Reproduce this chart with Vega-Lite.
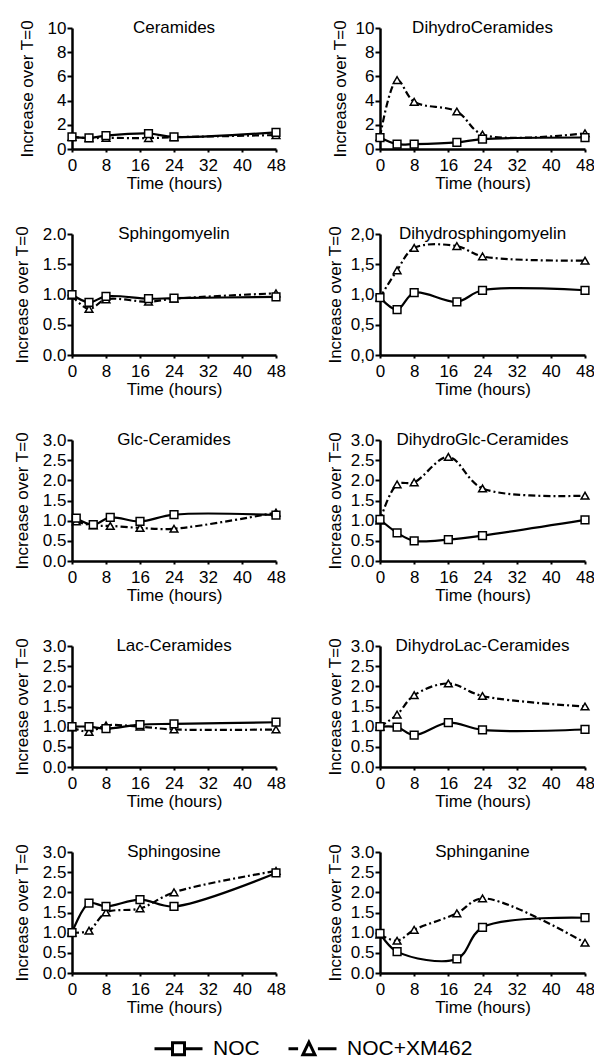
{
  "$schema": "https://vega.github.io/schema/vega-lite/v6.json",
  "padding": {"left": 13, "top": 19, "right": 0, "bottom": 0},
  "background": "white",
  "data": {"values": [
    {"panel": "Ceramides", "series": "NOC+XM462", "t": 0, "v": 1.0},
    {"panel": "Ceramides", "series": "NOC+XM462", "t": 4, "v": 0.9},
    {"panel": "Ceramides", "series": "NOC+XM462", "t": 8, "v": 0.92},
    {"panel": "Ceramides", "series": "NOC+XM462", "t": 18, "v": 0.9},
    {"panel": "Ceramides", "series": "NOC+XM462", "t": 24, "v": 0.97},
    {"panel": "Ceramides", "series": "NOC+XM462", "t": 48, "v": 1.15},
    {"panel": "Ceramides", "series": "NOC", "t": 0, "v": 1.0},
    {"panel": "Ceramides", "series": "NOC", "t": 4, "v": 0.92},
    {"panel": "Ceramides", "series": "NOC", "t": 8, "v": 1.1},
    {"panel": "Ceramides", "series": "NOC", "t": 18, "v": 1.28},
    {"panel": "Ceramides", "series": "NOC", "t": 24, "v": 1.0},
    {"panel": "Ceramides", "series": "NOC", "t": 48, "v": 1.38},
    {"panel": "DihydroCeramides", "series": "NOC+XM462", "t": 0, "v": 1.0},
    {"panel": "DihydroCeramides", "series": "NOC+XM462", "t": 4, "v": 5.7},
    {"panel": "DihydroCeramides", "series": "NOC+XM462", "t": 8, "v": 3.9},
    {"panel": "DihydroCeramides", "series": "NOC+XM462", "t": 18, "v": 3.1},
    {"panel": "DihydroCeramides", "series": "NOC+XM462", "t": 24, "v": 1.2},
    {"panel": "DihydroCeramides", "series": "NOC+XM462", "t": 48, "v": 1.3},
    {"panel": "DihydroCeramides", "series": "NOC", "t": 0, "v": 0.95},
    {"panel": "DihydroCeramides", "series": "NOC", "t": 4, "v": 0.4},
    {"panel": "DihydroCeramides", "series": "NOC", "t": 8, "v": 0.4},
    {"panel": "DihydroCeramides", "series": "NOC", "t": 18, "v": 0.55},
    {"panel": "DihydroCeramides", "series": "NOC", "t": 24, "v": 0.82},
    {"panel": "DihydroCeramides", "series": "NOC", "t": 48, "v": 0.95},
    {"panel": "Sphingomyelin", "series": "NOC+XM462", "t": 0, "v": 0.98},
    {"panel": "Sphingomyelin", "series": "NOC+XM462", "t": 4, "v": 0.76},
    {"panel": "Sphingomyelin", "series": "NOC+XM462", "t": 8, "v": 0.92},
    {"panel": "Sphingomyelin", "series": "NOC+XM462", "t": 18, "v": 0.88},
    {"panel": "Sphingomyelin", "series": "NOC+XM462", "t": 24, "v": 0.93},
    {"panel": "Sphingomyelin", "series": "NOC+XM462", "t": 48, "v": 1.02},
    {"panel": "Sphingomyelin", "series": "NOC", "t": 0, "v": 1.0},
    {"panel": "Sphingomyelin", "series": "NOC", "t": 4, "v": 0.87},
    {"panel": "Sphingomyelin", "series": "NOC", "t": 8, "v": 0.97},
    {"panel": "Sphingomyelin", "series": "NOC", "t": 18, "v": 0.93},
    {"panel": "Sphingomyelin", "series": "NOC", "t": 24, "v": 0.94},
    {"panel": "Sphingomyelin", "series": "NOC", "t": 48, "v": 0.96},
    {"panel": "Dihydrosphingomyelin", "series": "NOC+XM462", "t": 0, "v": 0.95},
    {"panel": "Dihydrosphingomyelin", "series": "NOC+XM462", "t": 4, "v": 1.4},
    {"panel": "Dihydrosphingomyelin", "series": "NOC+XM462", "t": 8, "v": 1.77},
    {"panel": "Dihydrosphingomyelin", "series": "NOC+XM462", "t": 18, "v": 1.8},
    {"panel": "Dihydrosphingomyelin", "series": "NOC+XM462", "t": 24, "v": 1.63},
    {"panel": "Dihydrosphingomyelin", "series": "NOC+XM462", "t": 48, "v": 1.56},
    {"panel": "Dihydrosphingomyelin", "series": "NOC", "t": 0, "v": 0.95},
    {"panel": "Dihydrosphingomyelin", "series": "NOC", "t": 4, "v": 0.75},
    {"panel": "Dihydrosphingomyelin", "series": "NOC", "t": 8, "v": 1.03},
    {"panel": "Dihydrosphingomyelin", "series": "NOC", "t": 18, "v": 0.88},
    {"panel": "Dihydrosphingomyelin", "series": "NOC", "t": 24, "v": 1.07},
    {"panel": "Dihydrosphingomyelin", "series": "NOC", "t": 48, "v": 1.07},
    {"panel": "Glc-Ceramides", "series": "NOC+XM462", "t": 1, "v": 0.98},
    {"panel": "Glc-Ceramides", "series": "NOC+XM462", "t": 5, "v": 0.88},
    {"panel": "Glc-Ceramides", "series": "NOC+XM462", "t": 9, "v": 0.87},
    {"panel": "Glc-Ceramides", "series": "NOC+XM462", "t": 16, "v": 0.82},
    {"panel": "Glc-Ceramides", "series": "NOC+XM462", "t": 24, "v": 0.8},
    {"panel": "Glc-Ceramides", "series": "NOC+XM462", "t": 48, "v": 1.2},
    {"panel": "Glc-Ceramides", "series": "NOC", "t": 1, "v": 1.06},
    {"panel": "Glc-Ceramides", "series": "NOC", "t": 5, "v": 0.9},
    {"panel": "Glc-Ceramides", "series": "NOC", "t": 9, "v": 1.08},
    {"panel": "Glc-Ceramides", "series": "NOC", "t": 16, "v": 0.98},
    {"panel": "Glc-Ceramides", "series": "NOC", "t": 24, "v": 1.15},
    {"panel": "Glc-Ceramides", "series": "NOC", "t": 48, "v": 1.14},
    {"panel": "DihydroGlc-Ceramides", "series": "NOC+XM462", "t": 0, "v": 1.0},
    {"panel": "DihydroGlc-Ceramides", "series": "NOC+XM462", "t": 4, "v": 1.9},
    {"panel": "DihydroGlc-Ceramides", "series": "NOC+XM462", "t": 8, "v": 1.95},
    {"panel": "DihydroGlc-Ceramides", "series": "NOC+XM462", "t": 16, "v": 2.58},
    {"panel": "DihydroGlc-Ceramides", "series": "NOC+XM462", "t": 24, "v": 1.8},
    {"panel": "DihydroGlc-Ceramides", "series": "NOC+XM462", "t": 48, "v": 1.62},
    {"panel": "DihydroGlc-Ceramides", "series": "NOC", "t": 0, "v": 1.03},
    {"panel": "DihydroGlc-Ceramides", "series": "NOC", "t": 4, "v": 0.7},
    {"panel": "DihydroGlc-Ceramides", "series": "NOC", "t": 8, "v": 0.5},
    {"panel": "DihydroGlc-Ceramides", "series": "NOC", "t": 16, "v": 0.53},
    {"panel": "DihydroGlc-Ceramides", "series": "NOC", "t": 24, "v": 0.63},
    {"panel": "DihydroGlc-Ceramides", "series": "NOC", "t": 48, "v": 1.02},
    {"panel": "Lac-Ceramides", "series": "NOC+XM462", "t": 0, "v": 0.98},
    {"panel": "Lac-Ceramides", "series": "NOC+XM462", "t": 4, "v": 0.87},
    {"panel": "Lac-Ceramides", "series": "NOC+XM462", "t": 8, "v": 1.03},
    {"panel": "Lac-Ceramides", "series": "NOC+XM462", "t": 16, "v": 1.0},
    {"panel": "Lac-Ceramides", "series": "NOC+XM462", "t": 24, "v": 0.93},
    {"panel": "Lac-Ceramides", "series": "NOC+XM462", "t": 48, "v": 0.93},
    {"panel": "Lac-Ceramides", "series": "NOC", "t": 0, "v": 1.0},
    {"panel": "Lac-Ceramides", "series": "NOC", "t": 4, "v": 1.0},
    {"panel": "Lac-Ceramides", "series": "NOC", "t": 8, "v": 0.95},
    {"panel": "Lac-Ceramides", "series": "NOC", "t": 16, "v": 1.05},
    {"panel": "Lac-Ceramides", "series": "NOC", "t": 24, "v": 1.07},
    {"panel": "Lac-Ceramides", "series": "NOC", "t": 48, "v": 1.11},
    {"panel": "DihydroLac-Ceramides", "series": "NOC+XM462", "t": 0, "v": 1.0},
    {"panel": "DihydroLac-Ceramides", "series": "NOC+XM462", "t": 4, "v": 1.3},
    {"panel": "DihydroLac-Ceramides", "series": "NOC+XM462", "t": 8, "v": 1.78},
    {"panel": "DihydroLac-Ceramides", "series": "NOC+XM462", "t": 16, "v": 2.07},
    {"panel": "DihydroLac-Ceramides", "series": "NOC+XM462", "t": 24, "v": 1.76},
    {"panel": "DihydroLac-Ceramides", "series": "NOC+XM462", "t": 48, "v": 1.5},
    {"panel": "DihydroLac-Ceramides", "series": "NOC", "t": 0, "v": 1.0},
    {"panel": "DihydroLac-Ceramides", "series": "NOC", "t": 4, "v": 0.99},
    {"panel": "DihydroLac-Ceramides", "series": "NOC", "t": 8, "v": 0.79},
    {"panel": "DihydroLac-Ceramides", "series": "NOC", "t": 16, "v": 1.1},
    {"panel": "DihydroLac-Ceramides", "series": "NOC", "t": 24, "v": 0.92},
    {"panel": "DihydroLac-Ceramides", "series": "NOC", "t": 48, "v": 0.93},
    {"panel": "Sphingosine", "series": "NOC+XM462", "t": 0, "v": 1.0},
    {"panel": "Sphingosine", "series": "NOC+XM462", "t": 4, "v": 1.05},
    {"panel": "Sphingosine", "series": "NOC+XM462", "t": 8, "v": 1.5},
    {"panel": "Sphingosine", "series": "NOC+XM462", "t": 16, "v": 1.6},
    {"panel": "Sphingosine", "series": "NOC+XM462", "t": 24, "v": 2.0},
    {"panel": "Sphingosine", "series": "NOC+XM462", "t": 48, "v": 2.53},
    {"panel": "Sphingosine", "series": "NOC", "t": 0, "v": 1.0},
    {"panel": "Sphingosine", "series": "NOC", "t": 4, "v": 1.73},
    {"panel": "Sphingosine", "series": "NOC", "t": 8, "v": 1.65},
    {"panel": "Sphingosine", "series": "NOC", "t": 16, "v": 1.82},
    {"panel": "Sphingosine", "series": "NOC", "t": 24, "v": 1.65},
    {"panel": "Sphingosine", "series": "NOC", "t": 48, "v": 2.48},
    {"panel": "Sphinganine", "series": "NOC+XM462", "t": 0, "v": 0.95},
    {"panel": "Sphinganine", "series": "NOC+XM462", "t": 4, "v": 0.8},
    {"panel": "Sphinganine", "series": "NOC+XM462", "t": 8, "v": 1.07},
    {"panel": "Sphinganine", "series": "NOC+XM462", "t": 18, "v": 1.48},
    {"panel": "Sphinganine", "series": "NOC+XM462", "t": 24, "v": 1.85},
    {"panel": "Sphinganine", "series": "NOC+XM462", "t": 48, "v": 0.75},
    {"panel": "Sphinganine", "series": "NOC", "t": 0, "v": 0.98},
    {"panel": "Sphinganine", "series": "NOC", "t": 4, "v": 0.53},
    {"panel": "Sphinganine", "series": "NOC", "t": 18, "v": 0.35},
    {"panel": "Sphinganine", "series": "NOC", "t": 24, "v": 1.13},
    {"panel": "Sphinganine", "series": "NOC", "t": 48, "v": 1.37}
  ]},
  "columns": 2,
  "spacing": {"row": 34, "column": 40},
  "concat": [
    {"title": "Ceramides", "width": 204, "height": 121,
     "transform": [{"filter": "datum.panel === 'Ceramides'"}],
     "encoding": {
       "x": {"field": "t", "type": "quantitative", "scale": {"domain": [0, 48], "nice": false}, "axis": {"values": [0, 8, 16, 24, 32, 40, 48], "title": "Time (hours)"}},
       "y": {"field": "v", "type": "quantitative", "scale": {"domain": [0, 10], "nice": false}, "axis": {"values": [0, 2, 4, 6, 8, 10], "title": "Increase over T=0", "titlePadding": 11}}
     },
     "layer": [
       {"transform": [{"filter": "datum.series === 'NOC+XM462'"}], "mark": {"type": "line", "interpolate": "catmull-rom", "color": "black", "strokeWidth": 2.2, "strokeDash": [7, 3, 2, 3]}, "encoding": {}},
       {"transform": [{"filter": "datum.series === 'NOC'"}], "mark": {"type": "line", "interpolate": "catmull-rom", "color": "black", "strokeWidth": 2.2}, "encoding": {}},
       {"transform": [{"filter": "datum.series === 'NOC+XM462'"}], "mark": {"type": "point", "shape": "triangle-up", "filled": true, "fill": "white", "stroke": "black", "strokeWidth": 1.5, "size": 60, "opacity": 1}},
       {"transform": [{"filter": "datum.series === 'NOC'"}], "mark": {"type": "point", "shape": "square", "filled": true, "fill": "white", "stroke": "black", "strokeWidth": 1.5, "size": 60, "opacity": 1}},
       {"transform": [{"filter": "false"}], "mark": {"type": "point", "filled": false, "color": "black", "strokeWidth": 3},
        "encoding": {"shape": {"field": "series", "type": "nominal", "scale": {"domain": ["NOC", "NOC+XM462"], "range": ["M-2,0H-0.5M0.5,0H2M-0.5,-0.5H0.5V0.5H-0.5Z", "M-2,0H-1.2M-0.8,0.5L-0.3,-0.55L0.2,0.5ZM0.45,0H2"]},
          "legend": {"title": null, "orient": "none", "legendX": 93, "legendY": 1007, "direction": "horizontal", "padding": 0, "labelFontSize": 21, "labelFont": "Liberation Sans", "labelColor": "black", "symbolSize": 576, "symbolStrokeWidth": 3, "symbolStrokeColor": "black", "symbolFillColor": "white", "symbolOpacity": 1, "columnPadding": 22, "labelOffset": 21}}}}
     ]},
    {"title": "DihydroCeramides", "width": 205, "height": 121,
     "transform": [{"filter": "datum.panel === 'DihydroCeramides'"}],
     "encoding": {
       "x": {"field": "t", "type": "quantitative", "scale": {"domain": [0, 48], "nice": false}, "axis": {"values": [0, 8, 16, 24, 32, 40, 48], "title": "Time (hours)"}},
       "y": {"field": "v", "type": "quantitative", "scale": {"domain": [0, 10], "nice": false}, "axis": {"values": [0, 2, 4, 6, 8, 10], "title": "Increase over T=0", "titlePadding": 6}}
     },
     "layer": [
       {"transform": [{"filter": "datum.series === 'NOC+XM462'"}], "mark": {"type": "line", "interpolate": "catmull-rom", "color": "black", "strokeWidth": 2.2, "strokeDash": [7, 3, 2, 3]}, "encoding": {}},
       {"transform": [{"filter": "datum.series === 'NOC'"}], "mark": {"type": "line", "interpolate": "catmull-rom", "color": "black", "strokeWidth": 2.2}, "encoding": {}},
       {"transform": [{"filter": "datum.series === 'NOC+XM462'"}], "mark": {"type": "point", "shape": "triangle-up", "filled": true, "fill": "white", "stroke": "black", "strokeWidth": 1.5, "size": 60, "opacity": 1}},
       {"transform": [{"filter": "datum.series === 'NOC'"}], "mark": {"type": "point", "shape": "square", "filled": true, "fill": "white", "stroke": "black", "strokeWidth": 1.5, "size": 60, "opacity": 1}},
       {"transform": [{"filter": "false"}], "mark": {"type": "point", "filled": false, "color": "black", "strokeWidth": 3},
        "encoding": {"shape": {"field": "series", "type": "nominal", "scale": {"domain": ["NOC", "NOC+XM462"], "range": ["M-2,0H-0.5M0.5,0H2M-0.5,-0.5H0.5V0.5H-0.5Z", "M-2,0H-1.2M-0.8,0.5L-0.3,-0.55L0.2,0.5ZM0.45,0H2"]},
          "legend": {"title": null, "orient": "none", "legendX": 93, "legendY": 1007, "direction": "horizontal", "padding": 0, "labelFontSize": 21, "labelFont": "Liberation Sans", "labelColor": "black", "symbolSize": 576, "symbolStrokeWidth": 3, "symbolStrokeColor": "black", "symbolFillColor": "white", "symbolOpacity": 1, "columnPadding": 22, "labelOffset": 21}}}}
     ]},
    {"title": "Sphingomyelin", "width": 204, "height": 121,
     "transform": [{"filter": "datum.panel === 'Sphingomyelin'"}],
     "encoding": {
       "x": {"field": "t", "type": "quantitative", "scale": {"domain": [0, 48], "nice": false}, "axis": {"values": [0, 8, 16, 24, 32, 40, 48], "title": "Time (hours)"}},
       "y": {"field": "v", "type": "quantitative", "scale": {"domain": [0, 2], "nice": false}, "axis": {"values": [0, 0.5, 1, 1.5, 2], "title": "Increase over T=0", "titlePadding": 11}}
     },
     "layer": [
       {"transform": [{"filter": "datum.series === 'NOC+XM462'"}], "mark": {"type": "line", "interpolate": "catmull-rom", "color": "black", "strokeWidth": 2.2, "strokeDash": [7, 3, 2, 3]}, "encoding": {}},
       {"transform": [{"filter": "datum.series === 'NOC'"}], "mark": {"type": "line", "interpolate": "catmull-rom", "color": "black", "strokeWidth": 2.2}, "encoding": {}},
       {"transform": [{"filter": "datum.series === 'NOC+XM462'"}], "mark": {"type": "point", "shape": "triangle-up", "filled": true, "fill": "white", "stroke": "black", "strokeWidth": 1.5, "size": 60, "opacity": 1}},
       {"transform": [{"filter": "datum.series === 'NOC'"}], "mark": {"type": "point", "shape": "square", "filled": true, "fill": "white", "stroke": "black", "strokeWidth": 1.5, "size": 60, "opacity": 1}},
       {"transform": [{"filter": "false"}], "mark": {"type": "point", "filled": false, "color": "black", "strokeWidth": 3},
        "encoding": {"shape": {"field": "series", "type": "nominal", "scale": {"domain": ["NOC", "NOC+XM462"], "range": ["M-2,0H-0.5M0.5,0H2M-0.5,-0.5H0.5V0.5H-0.5Z", "M-2,0H-1.2M-0.8,0.5L-0.3,-0.55L0.2,0.5ZM0.45,0H2"]},
          "legend": {"title": null, "orient": "none", "legendX": 93, "legendY": 1007, "direction": "horizontal", "padding": 0, "labelFontSize": 21, "labelFont": "Liberation Sans", "labelColor": "black", "symbolSize": 576, "symbolStrokeWidth": 3, "symbolStrokeColor": "black", "symbolFillColor": "white", "symbolOpacity": 1, "columnPadding": 22, "labelOffset": 21}}}}
     ]},
    {"title": "Dihydrosphingomyelin", "width": 205, "height": 121,
     "transform": [{"filter": "datum.panel === 'Dihydrosphingomyelin'"}],
     "encoding": {
       "x": {"field": "t", "type": "quantitative", "scale": {"domain": [0, 48], "nice": false}, "axis": {"values": [0, 8, 16, 24, 32, 40, 48], "title": "Time (hours)"}},
       "y": {"field": "v", "type": "quantitative", "scale": {"domain": [0, 2], "nice": false}, "axis": {"values": [0, 0.5, 1, 1.5, 2], "labelExpr": "replace(datum.label, '.', ',')", "title": "Increase over T=0", "titlePadding": 6}}
     },
     "layer": [
       {"transform": [{"filter": "datum.series === 'NOC+XM462'"}], "mark": {"type": "line", "interpolate": "catmull-rom", "color": "black", "strokeWidth": 2.2, "strokeDash": [7, 3, 2, 3]}, "encoding": {}},
       {"transform": [{"filter": "datum.series === 'NOC'"}], "mark": {"type": "line", "interpolate": "catmull-rom", "color": "black", "strokeWidth": 2.2}, "encoding": {}},
       {"transform": [{"filter": "datum.series === 'NOC+XM462'"}], "mark": {"type": "point", "shape": "triangle-up", "filled": true, "fill": "white", "stroke": "black", "strokeWidth": 1.5, "size": 60, "opacity": 1}},
       {"transform": [{"filter": "datum.series === 'NOC'"}], "mark": {"type": "point", "shape": "square", "filled": true, "fill": "white", "stroke": "black", "strokeWidth": 1.5, "size": 60, "opacity": 1}},
       {"transform": [{"filter": "false"}], "mark": {"type": "point", "filled": false, "color": "black", "strokeWidth": 3},
        "encoding": {"shape": {"field": "series", "type": "nominal", "scale": {"domain": ["NOC", "NOC+XM462"], "range": ["M-2,0H-0.5M0.5,0H2M-0.5,-0.5H0.5V0.5H-0.5Z", "M-2,0H-1.2M-0.8,0.5L-0.3,-0.55L0.2,0.5ZM0.45,0H2"]},
          "legend": {"title": null, "orient": "none", "legendX": 93, "legendY": 1007, "direction": "horizontal", "padding": 0, "labelFontSize": 21, "labelFont": "Liberation Sans", "labelColor": "black", "symbolSize": 576, "symbolStrokeWidth": 3, "symbolStrokeColor": "black", "symbolFillColor": "white", "symbolOpacity": 1, "columnPadding": 22, "labelOffset": 21}}}}
     ]},
    {"title": "Glc-Ceramides", "width": 204, "height": 121,
     "transform": [{"filter": "datum.panel === 'Glc-Ceramides'"}],
     "encoding": {
       "x": {"field": "t", "type": "quantitative", "scale": {"domain": [0, 48], "nice": false}, "axis": {"values": [0, 8, 16, 24, 32, 40, 48], "title": "Time (hours)"}},
       "y": {"field": "v", "type": "quantitative", "scale": {"domain": [0, 3], "nice": false}, "axis": {"values": [0, 0.5, 1, 1.5, 2, 2.5, 3], "title": "Increase over T=0", "titlePadding": 11}}
     },
     "layer": [
       {"transform": [{"filter": "datum.series === 'NOC+XM462'"}], "mark": {"type": "line", "interpolate": "catmull-rom", "color": "black", "strokeWidth": 2.2, "strokeDash": [7, 3, 2, 3]}, "encoding": {}},
       {"transform": [{"filter": "datum.series === 'NOC'"}], "mark": {"type": "line", "interpolate": "catmull-rom", "color": "black", "strokeWidth": 2.2}, "encoding": {}},
       {"transform": [{"filter": "datum.series === 'NOC+XM462'"}], "mark": {"type": "point", "shape": "triangle-up", "filled": true, "fill": "white", "stroke": "black", "strokeWidth": 1.5, "size": 60, "opacity": 1}},
       {"transform": [{"filter": "datum.series === 'NOC'"}], "mark": {"type": "point", "shape": "square", "filled": true, "fill": "white", "stroke": "black", "strokeWidth": 1.5, "size": 60, "opacity": 1}},
       {"transform": [{"filter": "false"}], "mark": {"type": "point", "filled": false, "color": "black", "strokeWidth": 3},
        "encoding": {"shape": {"field": "series", "type": "nominal", "scale": {"domain": ["NOC", "NOC+XM462"], "range": ["M-2,0H-0.5M0.5,0H2M-0.5,-0.5H0.5V0.5H-0.5Z", "M-2,0H-1.2M-0.8,0.5L-0.3,-0.55L0.2,0.5ZM0.45,0H2"]},
          "legend": {"title": null, "orient": "none", "legendX": 93, "legendY": 1007, "direction": "horizontal", "padding": 0, "labelFontSize": 21, "labelFont": "Liberation Sans", "labelColor": "black", "symbolSize": 576, "symbolStrokeWidth": 3, "symbolStrokeColor": "black", "symbolFillColor": "white", "symbolOpacity": 1, "columnPadding": 22, "labelOffset": 21}}}}
     ]},
    {"title": "DihydroGlc-Ceramides", "width": 205, "height": 121,
     "transform": [{"filter": "datum.panel === 'DihydroGlc-Ceramides'"}],
     "encoding": {
       "x": {"field": "t", "type": "quantitative", "scale": {"domain": [0, 48], "nice": false}, "axis": {"values": [0, 8, 16, 24, 32, 40, 48], "title": "Time (hours)"}},
       "y": {"field": "v", "type": "quantitative", "scale": {"domain": [0, 3], "nice": false}, "axis": {"values": [0, 0.5, 1, 1.5, 2, 2.5, 3], "title": "Increase over T=0", "titlePadding": 6}}
     },
     "layer": [
       {"transform": [{"filter": "datum.series === 'NOC+XM462'"}], "mark": {"type": "line", "interpolate": "catmull-rom", "color": "black", "strokeWidth": 2.2, "strokeDash": [7, 3, 2, 3]}, "encoding": {}},
       {"transform": [{"filter": "datum.series === 'NOC'"}], "mark": {"type": "line", "interpolate": "catmull-rom", "color": "black", "strokeWidth": 2.2}, "encoding": {}},
       {"transform": [{"filter": "datum.series === 'NOC+XM462'"}], "mark": {"type": "point", "shape": "triangle-up", "filled": true, "fill": "white", "stroke": "black", "strokeWidth": 1.5, "size": 60, "opacity": 1}},
       {"transform": [{"filter": "datum.series === 'NOC'"}], "mark": {"type": "point", "shape": "square", "filled": true, "fill": "white", "stroke": "black", "strokeWidth": 1.5, "size": 60, "opacity": 1}},
       {"transform": [{"filter": "false"}], "mark": {"type": "point", "filled": false, "color": "black", "strokeWidth": 3},
        "encoding": {"shape": {"field": "series", "type": "nominal", "scale": {"domain": ["NOC", "NOC+XM462"], "range": ["M-2,0H-0.5M0.5,0H2M-0.5,-0.5H0.5V0.5H-0.5Z", "M-2,0H-1.2M-0.8,0.5L-0.3,-0.55L0.2,0.5ZM0.45,0H2"]},
          "legend": {"title": null, "orient": "none", "legendX": 93, "legendY": 1007, "direction": "horizontal", "padding": 0, "labelFontSize": 21, "labelFont": "Liberation Sans", "labelColor": "black", "symbolSize": 576, "symbolStrokeWidth": 3, "symbolStrokeColor": "black", "symbolFillColor": "white", "symbolOpacity": 1, "columnPadding": 22, "labelOffset": 21}}}}
     ]},
    {"title": "Lac-Ceramides", "width": 204, "height": 121,
     "transform": [{"filter": "datum.panel === 'Lac-Ceramides'"}],
     "encoding": {
       "x": {"field": "t", "type": "quantitative", "scale": {"domain": [0, 48], "nice": false}, "axis": {"values": [0, 8, 16, 24, 32, 40, 48], "title": "Time (hours)"}},
       "y": {"field": "v", "type": "quantitative", "scale": {"domain": [0, 3], "nice": false}, "axis": {"values": [0, 0.5, 1, 1.5, 2, 2.5, 3], "title": "Increase over T=0", "titlePadding": 11}}
     },
     "layer": [
       {"transform": [{"filter": "datum.series === 'NOC+XM462'"}], "mark": {"type": "line", "interpolate": "catmull-rom", "color": "black", "strokeWidth": 2.2, "strokeDash": [7, 3, 2, 3]}, "encoding": {}},
       {"transform": [{"filter": "datum.series === 'NOC'"}], "mark": {"type": "line", "interpolate": "catmull-rom", "color": "black", "strokeWidth": 2.2}, "encoding": {}},
       {"transform": [{"filter": "datum.series === 'NOC+XM462'"}], "mark": {"type": "point", "shape": "triangle-up", "filled": true, "fill": "white", "stroke": "black", "strokeWidth": 1.5, "size": 60, "opacity": 1}},
       {"transform": [{"filter": "datum.series === 'NOC'"}], "mark": {"type": "point", "shape": "square", "filled": true, "fill": "white", "stroke": "black", "strokeWidth": 1.5, "size": 60, "opacity": 1}},
       {"transform": [{"filter": "false"}], "mark": {"type": "point", "filled": false, "color": "black", "strokeWidth": 3},
        "encoding": {"shape": {"field": "series", "type": "nominal", "scale": {"domain": ["NOC", "NOC+XM462"], "range": ["M-2,0H-0.5M0.5,0H2M-0.5,-0.5H0.5V0.5H-0.5Z", "M-2,0H-1.2M-0.8,0.5L-0.3,-0.55L0.2,0.5ZM0.45,0H2"]},
          "legend": {"title": null, "orient": "none", "legendX": 93, "legendY": 1007, "direction": "horizontal", "padding": 0, "labelFontSize": 21, "labelFont": "Liberation Sans", "labelColor": "black", "symbolSize": 576, "symbolStrokeWidth": 3, "symbolStrokeColor": "black", "symbolFillColor": "white", "symbolOpacity": 1, "columnPadding": 22, "labelOffset": 21}}}}
     ]},
    {"title": "DihydroLac-Ceramides", "width": 205, "height": 121,
     "transform": [{"filter": "datum.panel === 'DihydroLac-Ceramides'"}],
     "encoding": {
       "x": {"field": "t", "type": "quantitative", "scale": {"domain": [0, 48], "nice": false}, "axis": {"values": [0, 8, 16, 24, 32, 40, 48], "title": "Time (hours)"}},
       "y": {"field": "v", "type": "quantitative", "scale": {"domain": [0, 3], "nice": false}, "axis": {"values": [0, 0.5, 1, 1.5, 2, 2.5, 3], "title": "Increase over T=0", "titlePadding": 6}}
     },
     "layer": [
       {"transform": [{"filter": "datum.series === 'NOC+XM462'"}], "mark": {"type": "line", "interpolate": "catmull-rom", "color": "black", "strokeWidth": 2.2, "strokeDash": [7, 3, 2, 3]}, "encoding": {}},
       {"transform": [{"filter": "datum.series === 'NOC'"}], "mark": {"type": "line", "interpolate": "catmull-rom", "color": "black", "strokeWidth": 2.2}, "encoding": {}},
       {"transform": [{"filter": "datum.series === 'NOC+XM462'"}], "mark": {"type": "point", "shape": "triangle-up", "filled": true, "fill": "white", "stroke": "black", "strokeWidth": 1.5, "size": 60, "opacity": 1}},
       {"transform": [{"filter": "datum.series === 'NOC'"}], "mark": {"type": "point", "shape": "square", "filled": true, "fill": "white", "stroke": "black", "strokeWidth": 1.5, "size": 60, "opacity": 1}},
       {"transform": [{"filter": "false"}], "mark": {"type": "point", "filled": false, "color": "black", "strokeWidth": 3},
        "encoding": {"shape": {"field": "series", "type": "nominal", "scale": {"domain": ["NOC", "NOC+XM462"], "range": ["M-2,0H-0.5M0.5,0H2M-0.5,-0.5H0.5V0.5H-0.5Z", "M-2,0H-1.2M-0.8,0.5L-0.3,-0.55L0.2,0.5ZM0.45,0H2"]},
          "legend": {"title": null, "orient": "none", "legendX": 93, "legendY": 1007, "direction": "horizontal", "padding": 0, "labelFontSize": 21, "labelFont": "Liberation Sans", "labelColor": "black", "symbolSize": 576, "symbolStrokeWidth": 3, "symbolStrokeColor": "black", "symbolFillColor": "white", "symbolOpacity": 1, "columnPadding": 22, "labelOffset": 21}}}}
     ]},
    {"title": "Sphingosine", "width": 204, "height": 121,
     "transform": [{"filter": "datum.panel === 'Sphingosine'"}],
     "encoding": {
       "x": {"field": "t", "type": "quantitative", "scale": {"domain": [0, 48], "nice": false}, "axis": {"values": [0, 8, 16, 24, 32, 40, 48], "title": "Time (hours)"}},
       "y": {"field": "v", "type": "quantitative", "scale": {"domain": [0, 3], "nice": false}, "axis": {"values": [0, 0.5, 1, 1.5, 2, 2.5, 3], "title": "Increase over T=0", "titlePadding": 11}}
     },
     "layer": [
       {"transform": [{"filter": "datum.series === 'NOC+XM462'"}], "mark": {"type": "line", "interpolate": "catmull-rom", "color": "black", "strokeWidth": 2.2, "strokeDash": [7, 3, 2, 3]}, "encoding": {}},
       {"transform": [{"filter": "datum.series === 'NOC'"}], "mark": {"type": "line", "interpolate": "catmull-rom", "color": "black", "strokeWidth": 2.2}, "encoding": {}},
       {"transform": [{"filter": "datum.series === 'NOC+XM462'"}], "mark": {"type": "point", "shape": "triangle-up", "filled": true, "fill": "white", "stroke": "black", "strokeWidth": 1.5, "size": 60, "opacity": 1}},
       {"transform": [{"filter": "datum.series === 'NOC'"}], "mark": {"type": "point", "shape": "square", "filled": true, "fill": "white", "stroke": "black", "strokeWidth": 1.5, "size": 60, "opacity": 1}},
       {"transform": [{"filter": "false"}], "mark": {"type": "point", "filled": false, "color": "black", "strokeWidth": 3},
        "encoding": {"shape": {"field": "series", "type": "nominal", "scale": {"domain": ["NOC", "NOC+XM462"], "range": ["M-2,0H-0.5M0.5,0H2M-0.5,-0.5H0.5V0.5H-0.5Z", "M-2,0H-1.2M-0.8,0.5L-0.3,-0.55L0.2,0.5ZM0.45,0H2"]},
          "legend": {"title": null, "orient": "none", "legendX": 93, "legendY": 1007, "direction": "horizontal", "padding": 0, "labelFontSize": 21, "labelFont": "Liberation Sans", "labelColor": "black", "symbolSize": 576, "symbolStrokeWidth": 3, "symbolStrokeColor": "black", "symbolFillColor": "white", "symbolOpacity": 1, "columnPadding": 22, "labelOffset": 21}}}}
     ]},
    {"title": "Sphinganine", "width": 205, "height": 121,
     "transform": [{"filter": "datum.panel === 'Sphinganine'"}],
     "encoding": {
       "x": {"field": "t", "type": "quantitative", "scale": {"domain": [0, 48], "nice": false}, "axis": {"values": [0, 8, 16, 24, 32, 40, 48], "title": "Time (hours)"}},
       "y": {"field": "v", "type": "quantitative", "scale": {"domain": [0, 3], "nice": false}, "axis": {"values": [0, 0.5, 1, 1.5, 2, 2.5, 3], "title": "Increase over T=0", "titlePadding": 6}}
     },
     "layer": [
       {"transform": [{"filter": "datum.series === 'NOC+XM462'"}], "mark": {"type": "line", "interpolate": "catmull-rom", "color": "black", "strokeWidth": 2.2, "strokeDash": [7, 3, 2, 3]}, "encoding": {}},
       {"transform": [{"filter": "datum.series === 'NOC'"}], "mark": {"type": "line", "interpolate": "catmull-rom", "color": "black", "strokeWidth": 2.2}, "encoding": {}},
       {"transform": [{"filter": "datum.series === 'NOC+XM462'"}], "mark": {"type": "point", "shape": "triangle-up", "filled": true, "fill": "white", "stroke": "black", "strokeWidth": 1.5, "size": 60, "opacity": 1}},
       {"transform": [{"filter": "datum.series === 'NOC'"}], "mark": {"type": "point", "shape": "square", "filled": true, "fill": "white", "stroke": "black", "strokeWidth": 1.5, "size": 60, "opacity": 1}},
       {"transform": [{"filter": "false"}], "mark": {"type": "point", "filled": false, "color": "black", "strokeWidth": 3},
        "encoding": {"shape": {"field": "series", "type": "nominal", "scale": {"domain": ["NOC", "NOC+XM462"], "range": ["M-2,0H-0.5M0.5,0H2M-0.5,-0.5H0.5V0.5H-0.5Z", "M-2,0H-1.2M-0.8,0.5L-0.3,-0.55L0.2,0.5ZM0.45,0H2"]},
          "legend": {"title": null, "orient": "none", "legendX": 93, "legendY": 1007, "direction": "horizontal", "padding": 0, "labelFontSize": 21, "labelFont": "Liberation Sans", "labelColor": "black", "symbolSize": 576, "symbolStrokeWidth": 3, "symbolStrokeColor": "black", "symbolFillColor": "white", "symbolOpacity": 1, "columnPadding": 22, "labelOffset": 21}}}}
     ]}
  ],
  "config": {
    "view": {"stroke": null},
    "font": "Liberation Sans",
    "title": {"font": "Liberation Sans", "fontSize": 17, "fontWeight": "normal", "color": "black", "frame": "group", "baseline": "alphabetic", "offset": -18},
    "axis": {"grid": false, "domainColor": "black", "domainWidth": 2.5, "tickColor": "black", "tickWidth": 2, "labelColor": "black", "titleColor": "black", "labelFont": "Liberation Sans", "titleFont": "Liberation Sans", "labelFontSize": 17, "titleFontSize": 17, "titleFontWeight": "normal"},
    "axisX": {"tickSize": 3, "labelPadding": 5, "titlePadding": 2, "labelFlush": false, "labelOverlap": false},
    "axisY": {"tickSize": 5, "labelPadding": 1, "labelOverlap": false}
  }
}
